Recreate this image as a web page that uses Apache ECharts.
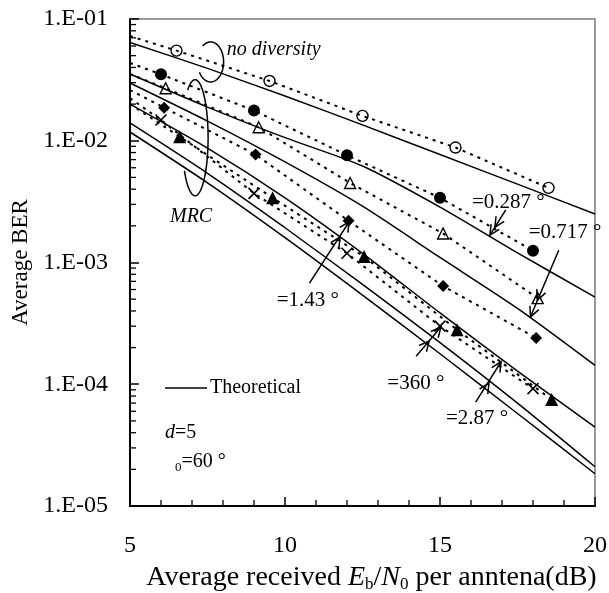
<!DOCTYPE html>
<html><head><meta charset="utf-8">
<script src="https://cdn.jsdelivr.net/npm/echarts@6/dist/echarts.min.js"></script>
<style>html,body{margin:0;padding:0;background:#fff;}#c{width:609px;height:593px;}</style>
</head><body><div id="c"></div>
<script>
// ---------- data ----------
const xTickLabels = ['5', '10', '15', '20'];
const yTickLabels = ['1.E-05', '1.E-04', '1.E-03', '1.E-02', '1.E-01'];

// theoretical curves (x in dB)
const theoryX = [5, 7.5, 10, 12.5, 15, 17.5, 20];
const theoryNoDiv = [0.0642, 0.0393, 0.0233, 0.0135, 0.0077, 0.0044, 0.0025];
const theory0287 = [0.0353, 0.0189, 0.0106, 0.0062, 0.00285, 0.0012, 0.00052];
const theory0717 = [0.0298, 0.0145, 0.0067, 0.0029, 0.0011, 0.00042, 0.000143];
const theory143 = [0.0200, 0.0087, 0.0034, 0.00119, 0.000385, 0.000128, 0.0000445];
const theory287 = [0.0140, 0.0054, 0.00193, 0.00066, 0.00022, 0.000070, 0.000021];
const theory360 = [0.0118, 0.00451, 0.0016, 0.00054, 0.000178, 0.0000575, 0.0000184];

// simulation (first point = start of the dashed curve at the left border, no marker)
const simNoDivX = [5, 6.5, 9.5, 12.5, 15.5, 18.5];
const simNoDiv = [0.0724, 0.055, 0.031, 0.016, 0.0088, 0.0041];
const sim0287X = [5, 6, 9, 12, 15, 18];
const sim0287 = [0.0435, 0.0351, 0.0177, 0.0076, 0.0034, 0.00125];
const sim0717X = [5, 6.15, 9.15, 12.1, 15.1, 18.15];
const sim0717 = [0.0353, 0.027, 0.0129, 0.0045, 0.00173, 0.00051];
const sim143X = [5, 6.1, 9.05, 12.05, 15.1, 18.1];
const sim143 = [0.0261, 0.0187, 0.0077, 0.0022, 0.00064, 0.00024];
const sim360X = [5, 6, 9, 12, 15, 18];
const sim360 = [0.0224, 0.0148, 0.0037, 0.00119, 0.0003, 0.000092];
const sim287X = [5, 6.6, 9.6, 12.55, 15.55, 18.6];
const sim287 = [0.020, 0.0108, 0.0034, 0.00112, 0.00028, 0.000075];

// annotations (data coordinates)
const annoTexts = ['=0.287 °', '=0.717 °', '=1.43 °', '=360 °', '=2.87 °'];
const annoPos = [[16.03, 0.00313], [17.86, 0.00175], [9.73, 4.91e-4], [13.30, 1.02e-4], [15.19, 5.26e-5]];
const arrowStarts = [[17.12, 0.0027], [18.83, 0.00126], [10.79, 6.78e-4], [14.23, 1.70e-4], [16.15, 7.13e-5]];
const arrowEnds = [[16.61, 0.00168], [17.92, 3.58e-4], [12.07, 0.00216], [15.03, 2.95e-4], [16.97, 1.53e-4]];
const arrowMids = [[16.77, 0.00195], [18.14, 4.91e-4], [11.78, 0.00162], [14.65, 2.26e-4], [16.58, 1.02e-4]];
const noDivLabelPos = [8.12, 0.0556];
const mrcLabelPos = [6.29, 0.00236];
const noDivEllipseCenter = [7.60, 0.0444];
const mrcEllipseCenter = [7.10, 0.0106];
const paramLabelPos = [[6.13, 4.0e-5], [6.13, 2.3e-5]];

// minor tick positions
const xMinorTicks = [6, 7, 8, 9, 11, 12, 13, 14, 16, 17, 18, 19];
const yMinorTicks = [];
[1e-5, 1e-4, 1e-3, 1e-2].forEach(d => { [2,3,4,5,6,7,8,9].forEach(m => yMinorTicks.push(m * d)); });

// ---------- chart ----------
const FONT = 'Liberation Serif';
const chart = echarts.init(document.getElementById('c'));
const pair = (xs, ys) => xs.map((x, i) => [x, ys[i]]);
const simData = (xs, ys) => xs.map((x, i) => i === 0 ? { value: [x, ys[i]], symbol: 'none' } : [x, ys[i]]);

const theoryStyle = { color: '#000', width: 1.5 };
function theory(arr) {
  return { name: 'Theoretical', type: 'line', data: pair(theoryX, arr), symbol: 'none', smooth: 0.25,
    lineStyle: theoryStyle, itemStyle: { color: '#000' }, silent: true, z: 3 };
}
const hollow = { color: 'rgba(0,0,0,0)', borderColor: '#000', borderWidth: 1.4 };
const solid = { color: '#000', borderColor: '#000', borderWidth: 0 };
function sim(name, xs, ys, symbol, size, itemStyle) {
  return { name, type: 'line', data: simData(xs, ys), symbol, symbolSize: size, showAllSymbol: true,
    itemStyle, lineStyle: { color: '#000', width: 2, type: [3, 5] }, silent: true, z: 4 };
}
function tickSeries(data, horizontal) {
  return { type: 'custom', silent: true, clip: false, z: 10, data: data,
    renderItem: (params, api) => {
      const p = api.coord([api.value(0), api.value(1)]);
      const shape = horizontal ? { x1: p[0], y1: p[1], x2: p[0] + 6, y2: p[1] }
                               : { x1: p[0], y1: p[1], x2: p[0], y2: p[1] - 6 };
      return { type: 'line', shape: shape, style: { stroke: '#000', lineWidth: 1.3 } };
    } };
}

const option = {
  animation: false,
  backgroundColor: '#fff',
  grid: { left: 130, right: 14, top: 19, bottom: 87, containLabel: false, outerBoundsMode: 'none',
    show: true, borderColor: '#7a7a7a', borderWidth: 1.5, backgroundColor: 'transparent' },
  legend: { data: [{ name: 'Theoretical', icon: 'rect' }], left: 160, top: 373, itemWidth: 42, itemHeight: 1.6, itemGap: 4,
    itemStyle: { color: '#000', borderWidth: 0 },
    textStyle: { fontFamily: FONT, fontSize: 20, color: '#000', padding: [0, 0, 0, -2] }, selectedMode: false },
  xAxis: {
    type: 'value', min: 5, max: 20, interval: 5,
    axisLine: { show: true, lineStyle: { color: '#000', width: 2 } },
    axisTick: { show: true, inside: true, length: 9, lineStyle: { color: '#000', width: 1.5 } },
    minorTick: { show: false },
    splitLine: { show: false },
    axisLabel: { fontFamily: FONT, fontSize: 24, color: '#000', margin: 28,
      formatter: v => xTickLabels[Math.round((v - 5) / 5)] },
    name: '{n|Average received }{i|E}{s|b}{n|/}{i|N}{s|0}{n| per anntena(dB)}',
    nameLocation: 'middle', nameGap: 56,
    nameTextStyle: { fontFamily: FONT, fontSize: 28, color: '#000', padding: [0, 0, 0, 18],
      rich: { n: { fontFamily: FONT, fontSize: 28, color: '#000', lineHeight: 31 },
              i: { fontFamily: FONT, fontSize: 28, fontStyle: 'italic', color: '#000', lineHeight: 31 },
              s: { fontFamily: FONT, fontSize: 17, color: '#000', verticalAlign: 'bottom', lineHeight: 16 } } }
  },
  yAxis: {
    type: 'log', logBase: 10, min: 1e-5, max: 1e-1,
    axisLine: { show: true, lineStyle: { color: '#000', width: 2 } },
    axisTick: { show: true, inside: true, length: 9, lineStyle: { color: '#000', width: 1.5 } },
    minorTick: { show: false },
    splitLine: { show: false },
    axisLabel: { fontFamily: FONT, fontSize: 24, color: '#000', margin: 22,
      formatter: v => yTickLabels[Math.round(Math.log10(v)) + 5] },
    name: 'Average BER', nameLocation: 'middle', nameGap: 92,
    nameTextStyle: { fontFamily: FONT, fontSize: 23, color: '#000' }
  },
  series: [
    theory(theoryNoDiv), theory(theory0287), theory(theory0717),
    theory(theory143), theory(theory287), theory(theory360),
    sim('no diversity', simNoDivX, simNoDiv, 'circle', 11, hollow),
    sim('0.287', sim0287X, sim0287, 'circle', 12, solid),
    sim('0.717', sim0717X, sim0717, 'triangle', 11, hollow),
    sim('1.43', sim143X, sim143, 'diamond', 12, solid),
    sim('360', sim360X, sim360, 'path://M0,0L10,10M10,0L0,10', 11,
      { color: 'rgba(0,0,0,0)', borderColor: '#000', borderWidth: 1.6 }),
    sim('2.87', sim287X, sim287, 'triangle', 13, solid),
    tickSeries(yMinorTicks.map(v => [5, v]), true),
    tickSeries(xMinorTicks.map(v => [v, 1e-5]), false)
  ]
};
chart.setOption(option);

// ---------- annotations ----------
const toPx = d => chart.convertToPixel({ gridIndex: 0 }, d);
const g = [];
const pl = (pts, w) => ({ type: 'polyline', shape: { points: pts }, style: { stroke: '#000', lineWidth: w || 1.5, fill: null }, silent: true, z: 100 });
function head(tip, dir) {
  const L = 11, a = 26 * Math.PI / 180;
  const rot = (v, t) => [v[0] * Math.cos(t) - v[1] * Math.sin(t), v[0] * Math.sin(t) + v[1] * Math.cos(t)];
  const b1 = rot(dir, a), b2 = rot(dir, -a);
  return pl([[tip[0] - L * b1[0], tip[1] - L * b1[1]], tip, [tip[0] - L * b2[0], tip[1] - L * b2[1]]]);
}
const txt = (x, y, text, font, rich) => ({ type: 'text', x: x, y: y, silent: true, z: 100,
  style: { text: text, font: font, fill: '#000', align: 'left', verticalAlign: 'middle',
           textAlign: 'left', textVerticalAlign: 'middle', rich: rich } });

for (let i = 0; i < annoTexts.length; i++) {
  const s = toPx(arrowStarts[i]), e = toPx(arrowEnds[i]), m = toPx(arrowMids[i]);
  const len = Math.hypot(e[0] - s[0], e[1] - s[1]);
  const dir = [(e[0] - s[0]) / len, (e[1] - s[1]) / len];
  g.push(pl([s, e]), head(e, dir), head(m, dir));
  const p = toPx(annoPos[i]);
  g.push(txt(p[0], p[1], annoTexts[i], '21px "Liberation Serif"'));
}
function ellipse(center, rx, ry, a0, a1) {
  const c = toPx(center), pts = [];
  for (let t = a0; t <= a1; t += 3) {
    const r = t * Math.PI / 180;
    pts.push([c[0] + rx * Math.cos(r), c[1] + ry * Math.sin(r)]);
  }
  return pl(pts, 1.5);
}
g.push(ellipse(noDivEllipseCenter, 13, 20, -127, 150));
g.push(ellipse(mrcEllipseCenter, 13, 58, -125, 146));
let p = toPx(noDivLabelPos);
g.push(txt(p[0], p[1], 'no diversity', 'italic 20px "Liberation Serif"'));
p = toPx(mrcLabelPos);
g.push(txt(p[0], p[1], 'MRC', 'italic 20px "Liberation Serif"'));
p = toPx(paramLabelPos[0]);
g.push(txt(p[0], p[1], '{i|d}{n|=5}', '20px "Liberation Serif"',
  { i: { fontFamily: FONT, fontSize: 20, fontStyle: 'italic', fill: '#000' }, n: { fontFamily: FONT, fontSize: 20, fill: '#000' } }));
p = toPx(paramLabelPos[1]);
g.push(txt(p[0] + 10, p[1], '{s|0}{n|=60 °}', '20px "Liberation Serif"',
  { s: { fontFamily: FONT, fontSize: 13, fill: '#000', verticalAlign: 'bottom', lineHeight: 13 },
    n: { fontFamily: FONT, fontSize: 20, fill: '#000', lineHeight: 24 } }));
chart.setOption({ graphic: g });
</script>
</body></html>
